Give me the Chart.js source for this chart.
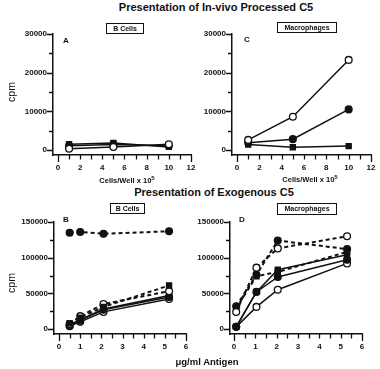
<!DOCTYPE html>
<html>
<head>
<meta charset="utf-8">
<script src="https://cdn.jsdelivr.net/npm/chart.js@4/dist/chart.umd.min.js"></script>
<style>
  body { margin: 0; background: #fff; font-family: "Liberation Sans", Arial, sans-serif; color: #111; }
  #page { position: relative; width: 380px; height: 369px; overflow: hidden; }
  canvas { position: absolute; }
  #ticks { left: 0; top: 0; pointer-events: none; }
  .txt { position: absolute; white-space: nowrap; transform: translate(-50%, -50%); color: #111; }
  .title { font-weight: bold; font-size: 11px; }
  .xlab { font-size: 7.5px; font-weight: bold; }
  .xlab sup { font-size: 6px; }
  .cpm { font-size: 10.5px; transform: translate(-50%, -50%) rotate(-90deg); }
  .box { position: absolute; border: 1px solid #111; font-size: 7px; font-weight: bold; text-align: center; box-sizing: border-box; color: #111; }
  .letter { font-size: 8px; font-weight: bold; }
</style>
</head>
<body>
<div id="page">
  <div class="txt title" style="left:216px;top:7px">Presentation of In-vivo Processed C5</div>
  <div class="txt title" style="left:214px;top:192px">Presentation of Exogenous C5</div>

  <canvas id="chartA" width="200" height="155" style="left:0;top:20px"></canvas>
  <canvas id="chartC" width="200" height="155" style="left:180px;top:20px"></canvas>
  <canvas id="chartB" width="200" height="150" style="left:0;top:205px"></canvas>
  <canvas id="chartD" width="200" height="150" style="left:180px;top:205px"></canvas>
  <canvas id="ticks" width="380" height="369"></canvas>

  <div class="txt cpm" style="left:11px;top:92px">cpm</div>
  <div class="txt cpm" style="left:11px;top:283px">cpm</div>
  <div class="txt xlab" style="left:127px;top:180px">Cells/Well x 10<sup>5</sup></div>
  <div class="txt xlab" style="left:310px;top:179px">Cells/Well x 10<sup>5</sup></div>
  <div class="txt" style="left:207px;top:361px;font-size:9.5px;font-weight:bold">μg/ml Antigen</div>

  <div class="box" style="left:106px;top:23px;width:38px;height:11px;line-height:9px">B Cells</div>
  <div class="box" style="left:277px;top:22px;width:60px;height:11px;line-height:9px">Macrophages</div>
  <div class="box" style="left:110px;top:203px;width:35px;height:11px;line-height:9px">B Cells</div>
  <div class="box" style="left:277px;top:203px;width:60px;height:12px;line-height:10px">Macrophages</div>

  <div class="txt letter" style="left:66px;top:40px">A</div>
  <div class="txt letter" style="left:247px;top:39px">C</div>
  <div class="txt letter" style="left:66px;top:219px">B</div>
  <div class="txt letter" style="left:242px;top:219px">D</div>
</div>

<script>
// Panels A / C: cells per well
const cellsPerWell = [1, 5, 10];
const aFilledSquare = [1500, 1800, 800];
const aFilledCircle = [1100, 1400, 1100];
const aOpenCircle = [300, 800, 1500];
const cOpenCircle = [2600, 8600, 23300];
const cFilledCircle = [1900, 2800, 10500];
const cFilledSquare = [1400, 700, 1000];

// Panels B / D: antigen dose (ug/ml)
const doseB = [0.5, 1, 2.1, 5.2];
const bDashFilledCircle = [135000, 136000, 133500, 137000];
const bDashFilledSquare = [8000, 16000, 31000, 61000];
const bDashOpenCircle = [7000, 18000, 35000, 53000];
const bFilledSquare = [6000, 13000, 28000, 47000];
const bFilledCircle = [5000, 12000, 27000, 45000];
const bOpenCircle = [4000, 10000, 24000, 42000];

const doseD = [0.1, 1.05, 2.05, 5.3];
const dDashOpenCircle = [24000, 86000, 113000, 130000];
const dDashFilledCircle = [32000, 76000, 124000, 112000];
const dDashFilledSquare = [29000, 74000, 80000, 108000];
const dFilledSquare = [3000, 52000, 83000, 104000];
const dFilledCircle = [3000, 52000, 73000, 97000];
const dOpenCircle = [3000, 31000, 55000, 92000];

// tick positions
const xTicksCells = [0, 1, 2, 3, 4, 5, 6, 7, 8, 9, 10, 11, 12];
const yTicksCells = [0, 5000, 10000, 15000, 20000, 25000, 30000];
const xTicksDose = [0, 0.5, 1, 1.5, 2, 2.5, 3, 3.5, 4, 4.5, 5, 5.5, 6];
const yTicksDose = [0, 25000, 50000, 75000, 100000, 125000, 150000];

const INK = '#111';

function series(xs, ys, kind, dashed) {
  const filled = kind !== 'open';
  return {
    data: xs.map((v, i) => ({ x: v, y: ys[i] })),
    borderColor: INK,
    borderWidth: dashed ? 2 : 1.5,
    borderDash: dashed ? [4, 3] : [],
    pointStyle: kind === 'square' ? 'rect' : 'circle',
    pointRadius: kind === 'square' ? 3.6 : 3.4,
    pointBorderWidth: 1.3,
    pointBorderColor: INK,
    pointBackgroundColor: filled ? INK : '#fff',
    tension: 0
  };
}

function makePanel(id, datasets, opts) {
  const tickFont = { family: 'Liberation Sans', size: 8, weight: 'bold' };
  return new Chart(document.getElementById(id), {
    type: 'line',
    data: { datasets: datasets },
    options: {
      responsive: false,
      animation: false,
      layout: { padding: { top: opts.padTop, right: opts.padRight, left: 0, bottom: 0 } },
      plugins: { legend: { display: false }, tooltip: { enabled: false } },
      scales: {
        x: {
          type: 'linear',
          min: opts.xMin, max: opts.xMax,
          afterBuildTicks: s => { s.ticks = opts.xTicks.map(v => ({ value: v })); },
          afterFit: s => { s.height = opts.xHeight; },
          border: { display: true, color: INK, width: 1.5 },
          grid: { display: false, drawTicks: true, tickLength: 7 },
          ticks: {
            autoSkip: false, maxRotation: 0, padding: 1, color: INK, font: tickFont,
            callback: v => (v % opts.xLabelStep === 0 ? String(v) : '')
          }
        },
        y: {
          type: 'linear',
          min: opts.yMin, max: opts.yMax,
          afterBuildTicks: s => { s.ticks = opts.yTicks.map(v => ({ value: v })); },
          afterFit: s => { s.width = opts.yWidth; },
          border: { display: true, color: INK, width: 1.5 },
          grid: { display: false, drawTicks: true, tickLength: 6 },
          ticks: {
            autoSkip: false, padding: 0, color: INK, font: tickFont,
            callback: v => (v % opts.yLabelStep === 0 ? String(v) : '')
          }
        }
      }
    }
  });
}

// tick marks on a separate overlay, placed with each chart's own scales
function drawTickMarks(chart) {
  const overlay = document.getElementById('ticks').getContext('2d');
  const ox = chart.canvas.offsetLeft, oy = chart.canvas.offsetTop;
  const x = chart.scales.x, y = chart.scales.y;
  const area = chart.chartArea;
  const bottom = oy + Math.round(area.bottom);
  const left = ox + Math.round(area.left);
  const xLast = x.max;
  overlay.save();
  overlay.strokeStyle = INK;
  overlay.lineWidth = 1.3;
  overlay.beginPath();
  x.ticks.forEach(t => {
    const px = ox + Math.round(x.getPixelForValue(t.value)) + 0.5;
    const len = (t.value === 0 || t.value === xLast) ? 7 : 4.5;
    overlay.moveTo(px, bottom);
    overlay.lineTo(px, bottom + len);
  });
  y.ticks.forEach(t => {
    const py = oy + Math.round(y.getPixelForValue(t.value)) + 0.5;
    const len = t.label !== '' ? 6 : 4;
    overlay.moveTo(left, py);
    overlay.lineTo(left - len, py);
  });
  overlay.stroke();
  overlay.restore();
}

const cellsOpts = {
  xMin: -0.45, xMax: 12, yMin: -1300, yMax: 30000,
  xTicks: xTicksCells, yTicks: yTicksCells, xLabelStep: 2, yLabelStep: 10000,
  padTop: 14, padRight: 9, xHeight: 20
};
const doseOpts = {
  xMin: -0.24, xMax: 6, yMin: -7000, yMax: 150000,
  xTicks: xTicksDose, yTicks: yTicksDose, xLabelStep: 1, yLabelStep: 50000,
  padTop: 17, padRight: 14, xHeight: 21
};

const charts = [];

charts.push(makePanel('chartA', [
  series(cellsPerWell, aOpenCircle, 'open'),
  series(cellsPerWell, aFilledCircle, 'filled'),
  series(cellsPerWell, aFilledSquare, 'square')
], Object.assign({}, cellsOpts, { yWidth: 53 })));

charts.push(makePanel('chartC', [
  series(cellsPerWell, cOpenCircle, 'open'),
  series(cellsPerWell, cFilledCircle, 'filled'),
  series(cellsPerWell, cFilledSquare, 'square')
], Object.assign({}, cellsOpts, { yWidth: 52 })));

charts.push(makePanel('chartB', [
  series(doseB, bDashFilledCircle, 'filled', true),
  series(doseB, bDashFilledSquare, 'square', true),
  series(doseB, bDashOpenCircle, 'open', true),
  series(doseB, bFilledSquare, 'square'),
  series(doseB, bFilledCircle, 'filled'),
  series(doseB, bOpenCircle, 'open')
], Object.assign({}, doseOpts, { yWidth: 54 })));

charts.push(makePanel('chartD', [
  series(doseD, dDashOpenCircle, 'open', true),
  series(doseD, dDashFilledCircle, 'filled', true),
  series(doseD, dDashFilledSquare, 'square', true),
  series(doseD, dFilledSquare, 'square'),
  series(doseD, dFilledCircle, 'filled'),
  series(doseD, dOpenCircle, 'open')
], Object.assign({}, doseOpts, { yWidth: 50, xMin: -0.19, padRight: 18 })));

charts.forEach(drawTickMarks);
</script>
</body>
</html>
